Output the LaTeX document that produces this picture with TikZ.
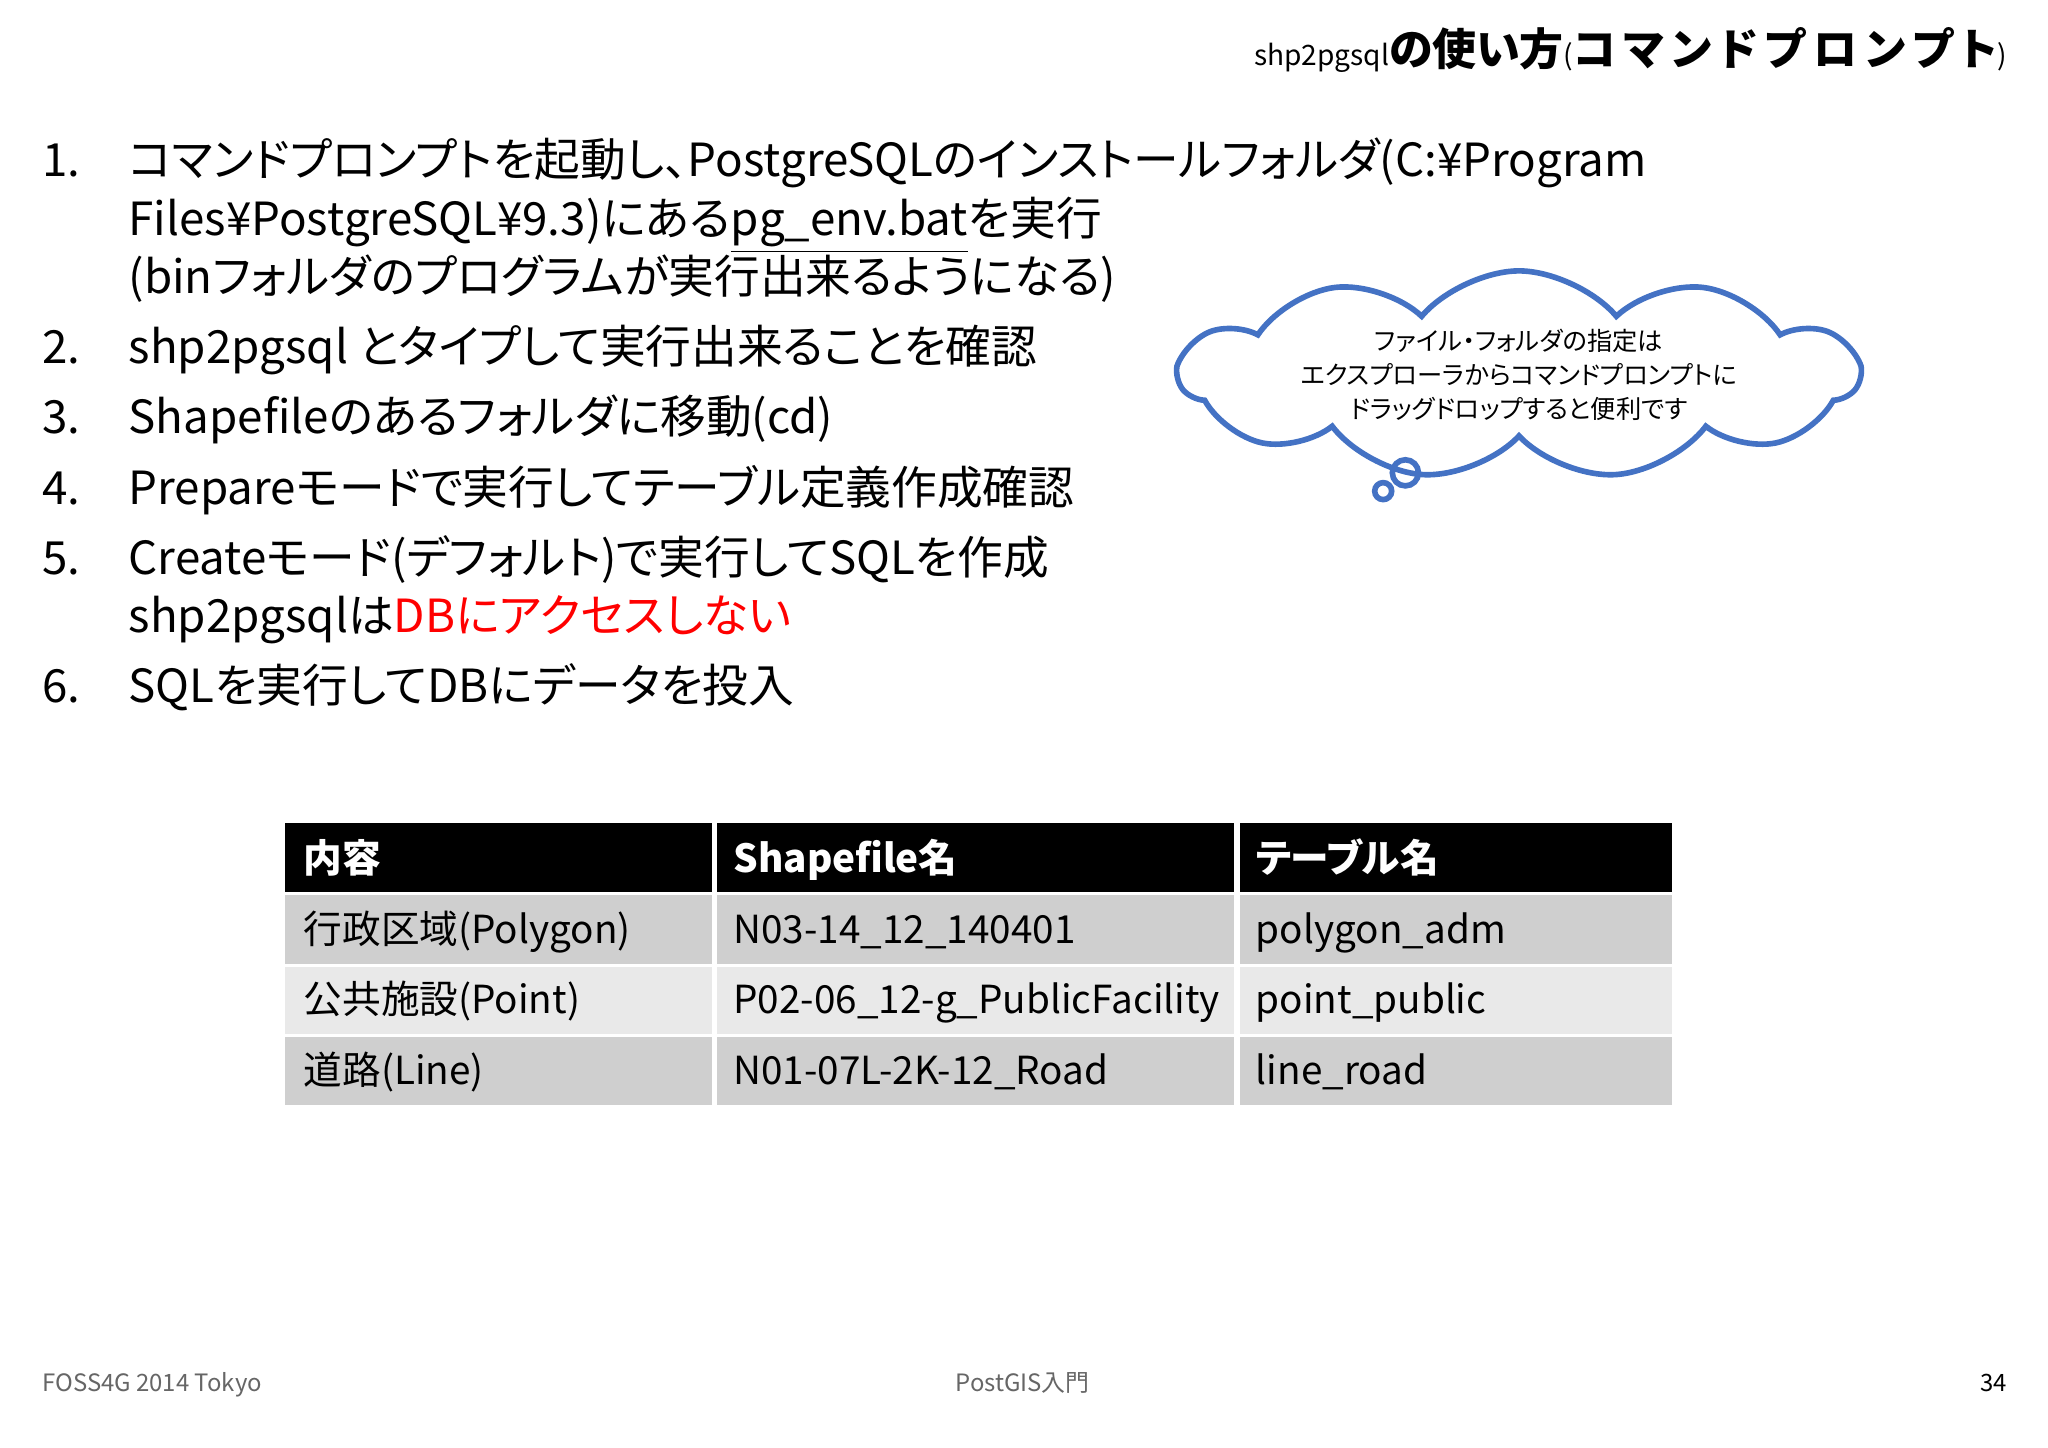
\documentclass[tikz,border=0pt]{standalone}
\usepackage{fontspec}
\setmainfont{Noto Sans CJK JP}[RawFeature=+palt]
\usetikzlibrary{shapes.symbols}
\definecolor{cb}{RGB}{68,114,196}
\definecolor{rowA}{RGB}{207,207,207}
\definecolor{rowB}{RGB}{233,233,233}
\begin{document}
\begin{tikzpicture}[x=0.013061cm,y=-0.013061cm,
  li/.style={anchor=base west,inner sep=0,font=\fontsize{13}{15}\selectfont},
  cell/.style={anchor=base west,inner sep=0,font=\fontsize{11}{13}\selectfont},
  hcell/.style={cell,text=white,font=\fontsize{11}{13}\selectfont\bfseries},
  foot/.style={inner sep=0,anchor=base,text=black!60,font=\fontsize{6.8}{8}\selectfont}]
\useasboundingbox[fill=white] (0,0) rectangle (1568,1108.6);
% title
\node[anchor=base east,inner sep=0] (title) at (1537,50) {{\fontsize{8}{9}\selectfont shp2pgsql}{\fontsize{12.5}{14}\selectfont\bfseries の使い方}{\fontsize{8}{9}\selectfont (}{\fontsize{12.5}{14}\selectfont\bfseries コ\,マ\,ン\,ド\,プ\,ロ\,ン\,プ\,ト}{\fontsize{8}{9}\selectfont )}};
% list
\node[li] (n1) at (32,135) {1.};
\node[li] (t1a) at (98,135) {コマンドプロンプトを起動し、PostgreSQLのインストールフォルダ(C:¥Program};
\node[li] (t1b) at (98,180) {Files¥PostgreSQL¥9.3)にある\underline{pg\_env.bat}を実行};
\node[li] (t1c) at (98,225) {(binフォルダのプログラムが実行出来るようになる)};
\node[li] (n2) at (32,278) {2.};
\node[li] (t2) at (98,278) {shp2pgsql とタイプして実行出来ることを確認};
\node[li] (n3) at (32,332) {3.};
\node[li] (t3) at (98,332) {Shapefileのあるフォルダに移動(cd)};
\node[li] (n4) at (32,386) {4.};
\node[li] (t4) at (98,386) {Prepareモードで実行してテーブル定義作成確認};
\node[li] (n5) at (32,440) {5.};
\node[li] (t5a) at (98,440) {Createモード(デフォルト)で実行してSQLを作成};
\node[li] (t5b) at (98,484) {shp2pgsqlは\textcolor{red}{DBにアクセスしない}};
\node[li] (n6) at (32,538) {6.};
\node[li] (t6) at (98,538) {SQLを実行してDBにデータを投入};
% cloud
\node[cloud,draw=cb,line width=1.6pt,cloud puffs=11,cloud puff arc=100,aspect=5,
  minimum width=520*0.013061cm,minimum height=105*0.013061cm,align=center,
  font=\fontsize{7.2}{9.6}\selectfont,inner sep=0] (cloud) at (1163,287)
  {ファイル・フォルダの指定は\\エクスプローラからコマンドプロンプトに\\ドラッグドロップすると便利です};
\node[circle,draw=cb,line width=1.6pt,minimum size=20*0.013061cm,inner sep=0] (b1) at (1076,362) {};
\node[circle,draw=cb,line width=1.6pt,minimum size=13*0.013061cm,inner sep=0] (b2) at (1059,376) {};
% table
\fill[black] (218,630) rectangle (1280,683);
\fill[rowA] (218,685) rectangle (1280,738);
\fill[rowB] (218,740) rectangle (1280,792);
\fill[rowA] (218,794) rectangle (1280,846);
\draw[white,line width=1.5pt] (547,630) -- (547,846) (947,630) -- (947,846);
\node[hcell] (h1) at (232,668) {内容};
\node[hcell] (h2) at (561,668) {Shapefile名};
\node[hcell] (h3) at (961,668) {テーブル名};
\node[cell] (r1a) at (232,722) {行政区域(Polygon)};
\node[cell] (r1b) at (561,722) {N03-14\_12\_140401};
\node[cell] (r1c) at (961,722) {polygon\_adm};
\node[cell] (r2a) at (232,776) {公共施設(Point)};
\node[cell] (r2b) at (561,776) {P02-06\_12-g\_PublicFacility};
\node[cell] (r2c) at (961,776) {point\_public};
\node[cell] (r3a) at (232,830) {道路(Line)};
\node[cell] (r3b) at (561,830) {N01-07L-2K-12\_Road};
\node[cell] (r3c) at (961,830) {line\_road};
% footer
\node[foot,anchor=base west] (f1) at (32,1065) {FOSS4G 2014 Tokyo};
\node[foot] (f2) at (783,1065) {PostGIS入門};
\node[foot,anchor=base east,text=black] (f3) at (1537,1065) {34};
\end{tikzpicture}
\end{document}
